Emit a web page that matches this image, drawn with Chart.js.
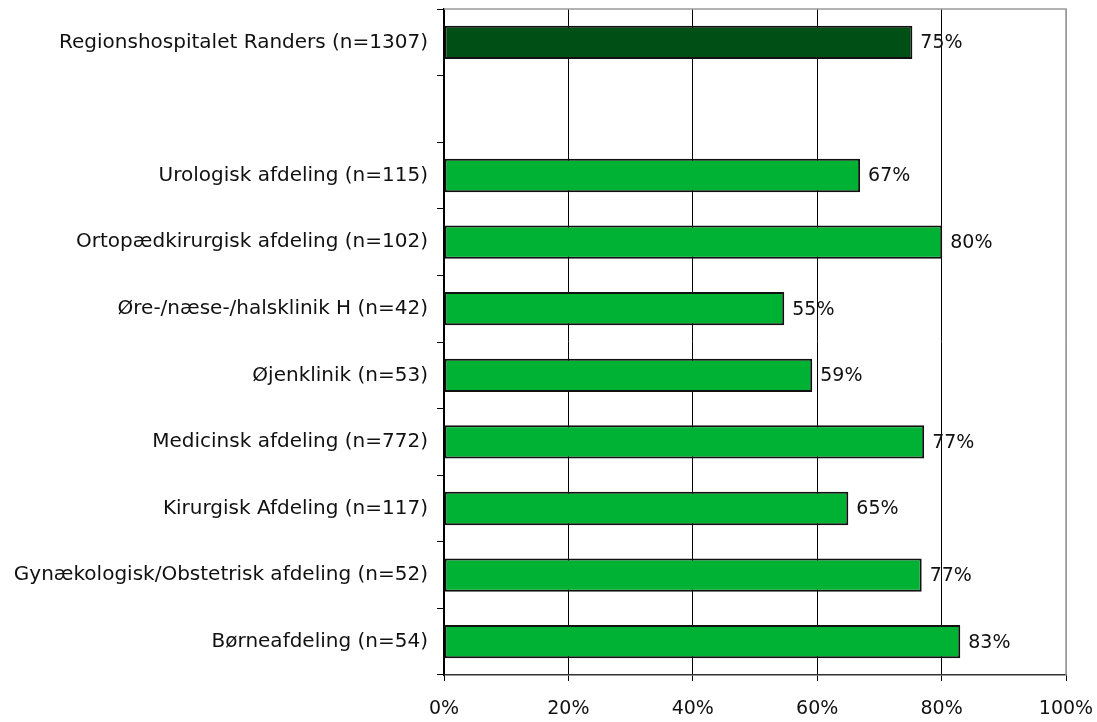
<!DOCTYPE html>
<html><head><meta charset="utf-8">
<script src="https://cdn.jsdelivr.net/npm/chart.js@4/dist/chart.umd.min.js"></script>
<style>html,body{margin:0;padding:0;background:#fff}#wrap{width:1097px;height:722px}</style>
</head><body><div id="wrap"><canvas id="c" width="1097" height="722"></canvas></div>
<script>
const categories = ["Regionshospitalet Randers (n=1307)", "", "Urologisk afdeling (n=115)", "Ortopædkirurgisk afdeling (n=102)", "Øre-/næse-/halsklinik H (n=42)", "Øjenklinik (n=53)", "Medicinsk afdeling (n=772)", "Kirurgisk Afdeling (n=117)", "Gynækologisk/Obstetrisk afdeling (n=52)", "Børneafdeling (n=54)"];
const values = [75.3, null, 66.9, 80.1, 54.7, 59.2, 77.2, 65.0, 76.8, 83.0];
const barColors = ["#004f14", null, "#00b233", "#00b233", "#00b233", "#00b233", "#00b233", "#00b233", "#00b233", "#00b233"];
const xTicks = [0, 20, 40, 60, 80, 100];

const FONT = "'DejaVu Sans', sans-serif";

const borderPlugin = {
  id: 'border',
  beforeDatasetsDraw(chart) {
    const a = chart.chartArea, ctx = chart.ctx;
    ctx.save();
    ctx.strokeStyle = '#999';
    ctx.lineWidth = 1.5;
    ctx.beginPath();
    ctx.moveTo(a.left, a.top); ctx.lineTo(a.right, a.top); ctx.lineTo(a.right, a.bottom);
    ctx.stroke();
    ctx.restore();
  }
};
const labelPlugin = {
  id: 'vlabels',
  afterDatasetsDraw(chart) {
    const ctx = chart.ctx;
    const meta = chart.getDatasetMeta(0);
    ctx.save();
    ctx.font = "19px " + FONT;
    ctx.fillStyle = '#111';
    ctx.textBaseline = 'middle';
    ctx.textAlign = 'left';
    meta.data.forEach((el, i) => {
      if (values[i] == null) return;
      ctx.fillText(Math.round(values[i]) + '%', el.x + 8, el.y + 1);
    });
    ctx.restore();
  }
};

new Chart(document.getElementById('c'), {
  type: 'bar',
  data: {
    labels: categories,
    datasets: [{
      data: values,
      backgroundColor: barColors,
      borderColor: '#111',
      borderWidth: 2,
      borderSkipped: false,
      barPercentage: 0.5,
      categoryPercentage: 1.0
    }]
  },
  options: {
    indexAxis: 'y',
    responsive: false,
    animation: false,
    layout: { padding: { top: 9, right: 31, left: 0, bottom: 0 } },
    plugins: { legend: { display: false }, tooltip: { enabled: false } },
    scales: {
      x: {
        min: 0, max: 100,
        afterBuildTicks(scale) { scale.ticks = xTicks.map(v => ({ value: v })); },
        afterFit(scale) { scale.height = 47; scale.paddingLeft = 0; scale.paddingRight = 0; },
        grid: {
          color: (c) => (c.tick && (c.tick.value === 100)) ? '#999' : '#000',
          lineWidth: 1,
          tickLength: 6,
          tickColor: '#000'
        },
        border: { color: '#333', width: 1.5 },
        ticks: {
          color: '#111',
          font: { family: FONT, size: 19 },
          padding: 17,
          callback: (v) => v + '%'
        }
      },
      y: {
        afterFit(scale) { scale.width = 444; scale.paddingTop = 0; scale.paddingBottom = 0; },
        grid: {
          offset: true,
          drawOnChartArea: false,
          tickLength: 7,
          color: '#000',
          lineWidth: 1
        },
        border: { color: '#000', width: 1.5 },
        ticks: {
          color: '#111',
          font: { family: FONT, size: 20 },
          padding: 9,
          autoSkip: false
        }
      }
    }
  },
  plugins: [borderPlugin, labelPlugin]
});
</script></body></html>
